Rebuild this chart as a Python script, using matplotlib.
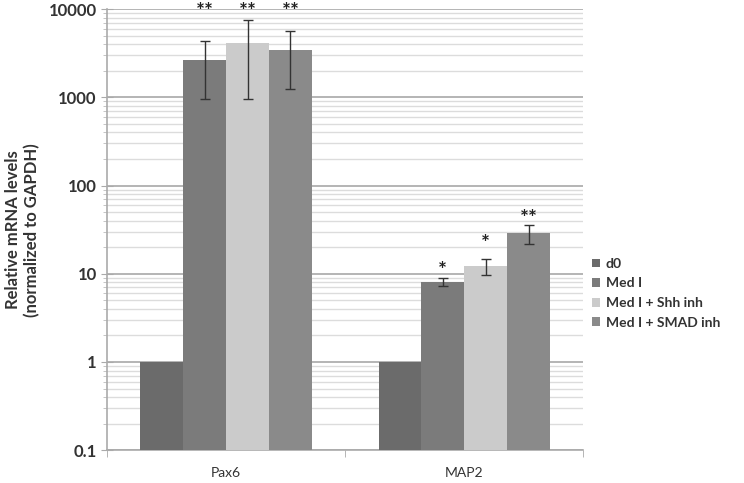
import matplotlib.pyplot as plt
import numpy as np
from matplotlib.ticker import LogLocator, NullFormatter, FixedLocator

plt.rcParams['font.family'] = ['Lato', 'DejaVu Sans']

genes = ['Pax6', 'MAP2']
series = ['d0', 'Med I', 'Med I + Shh inh', 'Med I + SMAD inh']
colors = ['#6b6b6b', '#7b7b7b', '#cbcbcb', '#8a8a8a']

# mean, lower, upper per series (Pax6, MAP2)
means = [[1, 1], [2650, 8.1], [4150, 12.2], [3450, 29.2]]
lows = [[1, 1], [955, 7.3], [955, 9.7], [1245, 21.8]]
highs = [[1, 1], [4350, 9.0], [7550, 14.7], [5650, 35.7]]
has_err = [False, True, True, True]

stars = [['', ''], ['**', '*'], ['**', '*'], ['**', '**']]
star_y = [[0, 0], [9200, 10.8], [9200, 21.5], [9200, 42.0]]

fig = plt.figure(figsize=(7.44, 4.83), dpi=100)
ax = fig.add_axes([0.144, 0.068, 0.64, 0.913])

x = np.arange(len(genes))
w = 0.18
for i, s in enumerate(series):
    pos = x + (i - 1.5) * w
    m = np.array(means[i])
    ax.bar(pos, m, w, color=colors[i], label=s, zorder=3, edgecolor='none')
    if has_err[i]:
        yerr = [m - np.array(lows[i]), np.array(highs[i]) - m]
        ax.errorbar(pos, m, yerr=yerr, fmt='none', ecolor='#333333',
                    elinewidth=1, capsize=3.5, capthick=1, zorder=4)
    for j in range(len(genes)):
        if stars[i][j]:
            ax.text(pos[j], star_y[i][j], stars[i][j], ha='center', va='center',
                    fontsize=15, fontweight='bold', color='#222222', zorder=5)

ax.set_yscale('log')
ax.set_ylim(0.1, 10000)
ax.set_xlim(-0.5, 1.5)
ax.yaxis.set_minor_locator(LogLocator(base=10, subs=np.arange(2, 10), numticks=10))
ax.yaxis.set_minor_formatter(NullFormatter())
ax.set_yticks([0.1, 1, 10, 100, 1000, 10000])
ax.set_yticklabels(['0.1', '1', '10', '100', '1000', '10000'])

ax.grid(True, which='major', axis='y', color='#a8a8a8', linewidth=1.2, zorder=0)
ax.grid(True, which='minor', axis='y', color='#dcdcdc', linewidth=1.0, zorder=0)

ax.set_xticks(x)
ax.set_xticklabels(genes)
ax.xaxis.set_minor_locator(FixedLocator([-0.5, 0.5, 1.5]))
ax.tick_params(axis='x', which='major', length=0, pad=12, labelsize=10, colors='#333333')
ax.tick_params(axis='x', which='minor', length=5, color='#aaaaaa', direction='out')
ax.tick_params(axis='y', which='major', length=8, color='#aaaaaa', direction='inout',
               labelsize=12, labelcolor='#333333')
ax.tick_params(axis='y', which='minor', length=3, color='#bbbbbb', direction='out')
for lab in ax.get_yticklabels():
    lab.set_fontweight('bold')

for sp in ['top', 'right']:
    ax.spines[sp].set_visible(False)
ax.spines['left'].set_color('#aaaaaa')
ax.spines['bottom'].set_color('#aaaaaa')
ax.spines['left'].set_linewidth(1.2)
ax.spines['bottom'].set_linewidth(1.2)

ax.set_ylabel('Relative mRNA levels\n(normalized to GAPDH)', fontsize=12,
              fontweight='bold', color='#333333', labelpad=6)

leg = ax.legend(loc='upper left', bbox_to_anchor=(1.0, 0.455), frameon=False,
                prop={'size': 10, 'weight': 'bold'}, handlelength=0.6,
                handleheight=0.6, handletextpad=0.4,
                labelspacing=0.55, borderaxespad=0.2)
for t in leg.get_texts():
    t.set_color('#333333')

fig.savefig('out.png', dpi=100)
